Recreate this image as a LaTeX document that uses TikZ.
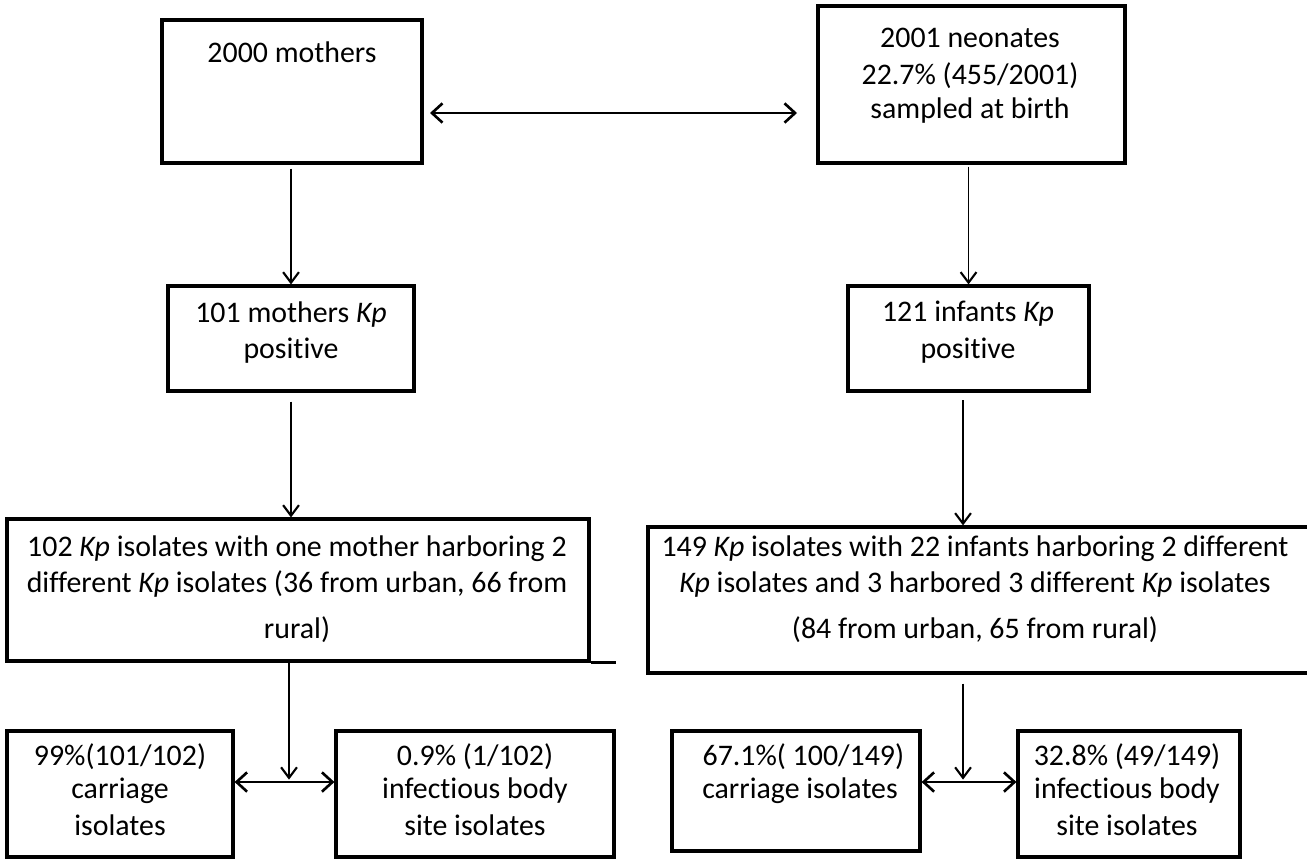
\documentclass[tikz,border=0pt]{standalone}
\usepackage{fontspec}
\setmainfont{Carlito}[Ligatures=NoCommon]
\usepackage{tikz}
\usetikzlibrary{arrows.meta,fit}

\begin{document}
\begin{tikzpicture}[x=0.02cm,y=-0.02cm,
	box/.style={draw,line width=1.8pt,inner sep=0pt},
	txt/.style={align=center,inner sep=0pt,font=\fontsize{17}{21}\selectfont},
	flow/.style={line width=0.8pt,-{Straight Barb[length=6pt,width=9pt,line width=1.2pt]}},
	both/.style={line width=1.5pt,{Straight Barb[length=6pt,width=11pt]}-{Straight Barb[length=6pt,width=11pt]}}]
		\useasboundingbox (0,0) rectangle (1307,859);
		% top row
		\node[box,fit={(162,20) (422,163)}] (moth) {};
		\node[box,fit={(818,6) (1125,163)}] (neo) {};
		\node[txt] at (292,52) {2000 mothers};
		\node[txt,anchor=north] at (970,28) {2001 neonates\\22.7\% (455/2001)\\[-2pt]sampled at birth};
		\coordinate (m1) at (430,113);
		\coordinate (n1) at (797,113);
		\draw[both] (m1) -- (n1);
		% positives
		\node[box,fit={(168,286) (414,391)}] (mpos) {};
		\node[box,fit={(848,286) (1089,391)}] (ipos) {};
		\node[txt,anchor=north] at (291,301) {101 mothers \textit{Kp}\\positive};
		\node[txt,anchor=north] at (968,301) {121 infants \textit{Kp}\\positive};
		\draw[flow] (moth.south -| mpos.north) ++(0,4) -- (mpos.north);
		\draw[flow] (neo.south -| ipos.north) ++(0,2) -- (ipos.north);
		% isolates
		\node[box,fit={(7,519) (589,661)}] (miso) {};
		\node[box,fit={(648,527) (1312,673)}] (iiso) {};
		\draw[line width=1.8pt] (miso.south east) -- ++(25,0);
		\node[txt,anchor=north] at (297,535) {102 \textit{Kp} isolates with one mother harboring 2\\different \textit{Kp} isolates (36 from urban, 66 from\\[5pt]rural)};
		\node[txt,anchor=north] at (975,535) {149 \textit{Kp} isolates with 22 infants harboring 2 different\\\textit{Kp} isolates and 3 harbored 3 different \textit{Kp} isolates\\[5pt](84 from urban, 65 from rural)};
		\draw[flow] (mpos.south) ++(0,9) -- (mpos.south |- miso.north);
		\draw[flow] (963,400) -- (iiso.north -| 963,0);
		% split
		\node[box,fit={(7,731) (233,857)}] (mcar) {};
		\node[box,fit={(336,731) (614,857)}] (minf) {};
		\node[box,fit={(672,731) (920,851)}] (icar) {};
		\node[box,fit={(1018,731) (1240,857)}] (iinf) {};
		\node[txt,anchor=north] at (120,743) {99\%(101/102)\\[-2pt]carriage\\isolates};
		\node[txt,anchor=north] at (475,743) {0.9\% (1/102)\\[-2pt]infectious body\\site isolates};
		\node[txt,anchor=north] at (800,743) {\ 67.1\%( 100/149)\\[-2pt]carriage isolates};
		\node[txt,anchor=north] at (1127,743) {32.8\% (49/149)\\[-2pt]infectious body\\site isolates};
		\coordinate (msplit) at (289,782);
		\coordinate (isplit) at (963,782);
		\draw[flow] (miso.south -| msplit) -- ++(0,117);
		\draw[flow] (iiso.south -| isplit) ++(0,9) -- ++(0,96);
		\draw[both] (mcar.east |- msplit) -- (minf.west |- msplit);
		\draw[both] (icar.east |- isplit) -- (iinf.west |- isplit);
\end{tikzpicture}
\end{document}
